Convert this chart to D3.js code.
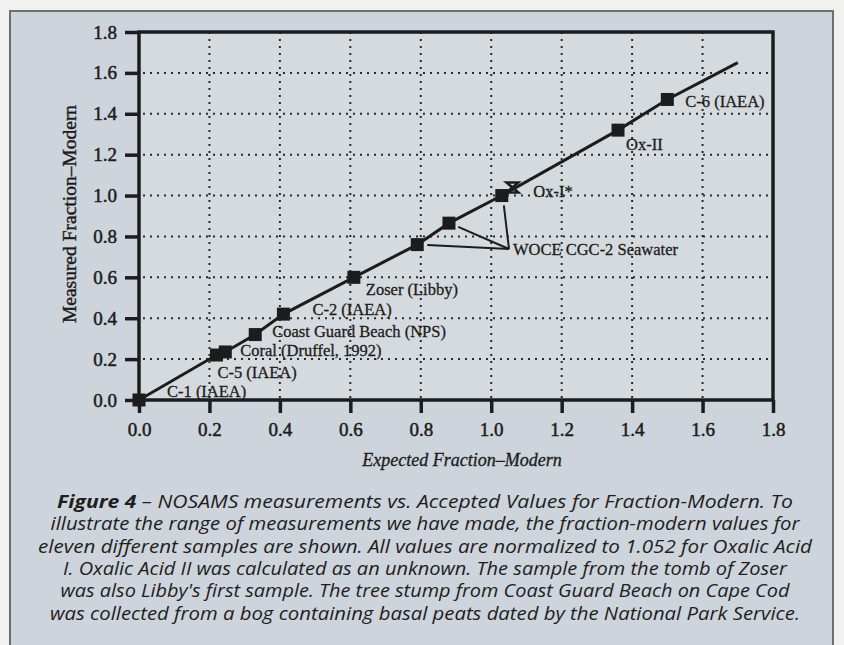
<!DOCTYPE html>
<html>
<head>
<meta charset="utf-8">
<script src="https://cdn.jsdelivr.net/npm/d3@7"></script>
<style>
  body { margin: 0; background: #f1f1ef; }
  svg { display: block; }
</style>
</head>
<body>
<svg id="chart" width="844" height="645"></svg>
<script>
// Samples plotted as filled squares (expected vs measured fraction-modern)
const sampleNames = ["C-1 (IAEA)", "C-5 (IAEA)", "Coral (Druffel, 1992)", "Coast Guard Beach (NPS)",
  "C-2 (IAEA)", "Zoser (Libby)", "WOCE CGC-2 Seawater", "WOCE CGC-2 Seawater", "WOCE CGC-2 Seawater",
  "Ox-II", "C-6 (IAEA)"];
const expected = [0.00, 0.22, 0.245, 0.33, 0.41, 0.61, 0.79, 0.88, 1.03, 1.36, 1.50];
const measured = [0.00, 0.22, 0.235, 0.32, 0.42, 0.60, 0.76, 0.865, 1.00, 1.32, 1.47];

// Ox-I standard, drawn with its own marker
const oxIName = "Ox-I*";
const oxIExpected = 1.06;
const oxIMeasured = 1.04;

// where the drawn line stops
const lineEnd = [1.70, 1.65];

const xTicks = [0, 0.2, 0.4, 0.6, 0.8, 1.0, 1.2, 1.4, 1.6, 1.8];
const yTicks = [0, 0.2, 0.4, 0.6, 0.8, 1.0, 1.2, 1.4, 1.6, 1.8];
const gridValues = [0.2, 0.4, 0.6, 0.8, 1.0, 1.2, 1.4, 1.6];

const xTitle = "Expected Fraction\u2013Modern";
const yTitle = "Measured Fraction\u2013Modern";

const captionLines = [
  ["Figure 4", " \u2013 NOSAMS measurements vs. Accepted Values for Fraction-Modern. To"],
  ["", "illustrate the range of measurements we have made, the fraction-modern values for"],
  ["", "eleven different samples are shown. All values are normalized to 1.052 for Oxalic Acid"],
  ["", "I. Oxalic Acid II was calculated as an unknown. The sample from the tomb of Zoser"],
  ["", "was also Libby's first sample. The tree stump from Coast Guard Beach on Cape Cod"],
  ["", "was collected from a bog containing basal peats dated by the National Park Service."]
];
// printed width of each caption line (the original face is wider than Open Sans)
const captionWidths = [736, 749, 774, 724, 729, 750];

// label placement (pixel offsets from each square), null = no own label
const labelOffsets = [[28, -3], [1, 23], [15, 4], [17, 2], [29, 1], [12, 18], null, null, null, [8, 20], [18, 8]];

const ink = "#1c1c1c";
const serif = "'Liberation Serif', 'Times New Roman', serif";

const svg = d3.select("#chart");

// panel with frame
svg.append("rect")
  .attr("x", 10).attr("y", 11).attr("width", 823).attr("height", 660)
  .attr("fill", "#ced4db")
  .attr("stroke", "#6d6f70")
  .attr("stroke-width", 2);

const x = d3.scaleLinear().domain([0, 1.8]).range([139, 773]);
const y = d3.scaleLinear().domain([0, 1.8]).range([400, 32]);

// plot background
svg.append("rect")
  .attr("x", x(0)).attr("y", y(1.8))
  .attr("width", x(1.8) - x(0)).attr("height", y(0) - y(1.8))
  .attr("fill", "#d5dadf");

// dotted grid
const grid = svg.append("g").attr("stroke", "#2a2a2a").attr("stroke-width", 2)
  .attr("stroke-dasharray", "2,5");
grid.selectAll("line.h").data(gridValues).join("line").attr("class", "h")
  .attr("x1", x(0) + 4).attr("x2", x(1.8))
  .attr("y1", d => y(d)).attr("y2", d => y(d));
grid.selectAll("line.v").data(gridValues).join("line").attr("class", "v")
  .attr("y1", y(1.8)).attr("y2", y(0))
  .attr("x1", d => x(d)).attr("x2", d => x(d));

// axes
const yAxis = svg.append("g")
  .attr("transform", `translate(${x(0)},0)`)
  .call(d3.axisLeft(y).tickValues(yTicks).tickSize(14).tickPadding(8).tickFormat(d3.format(".1f")));
const xAxis = svg.append("g")
  .attr("transform", `translate(0,${y(0)})`)
  .call(d3.axisBottom(x).tickValues(xTicks).tickSize(13).tickPadding(10).tickFormat(d3.format(".1f")));

[xAxis, yAxis].forEach(ax => {
  ax.select(".domain").remove();
  ax.selectAll(".tick line").attr("stroke", ink).attr("stroke-width", 3.5);
  ax.selectAll(".tick text")
    .attr("fill", ink)
    .attr("stroke", ink)
    .attr("stroke-width", 0.5)
    .style("font-family", serif)
    .style("font-size", "19px");
});

// frame of the plot
svg.append("rect")
  .attr("x", x(0)).attr("y", y(1.8))
  .attr("width", x(1.8) - x(0)).attr("height", y(0) - y(1.8))
  .attr("fill", "none")
  .attr("stroke", ink)
  .attr("stroke-width", 3.5);

// axis titles
svg.append("text")
  .attr("x", 462).attr("y", 466)
  .attr("text-anchor", "middle")
  .attr("fill", ink)
  .attr("stroke", ink).attr("stroke-width", 0.3)
  .style("font-family", serif).style("font-size", "18px").style("font-style", "italic")
  .text(xTitle);
svg.append("text")
  .attr("transform", "translate(76,214) rotate(-90)")
  .attr("text-anchor", "middle")
  .attr("fill", ink)
  .attr("stroke", ink).attr("stroke-width", 0.4)
  .style("font-family", serif).style("font-size", "19.5px")
  .text(yTitle);

// the line through the samples
const pts = expected.map((e, i) => [e, measured[i]]);
const linePts = pts.concat([lineEnd]);
svg.append("path")
  .datum(linePts)
  .attr("fill", "none")
  .attr("stroke", ink)
  .attr("stroke-width", 3)
  .attr("d", d3.line().x(d => x(d[0])).y(d => y(d[1])));

// leader lines for the seawater samples
const wocePos = [513, 249];
const woceIdx = sampleNames.map((n, i) => n.startsWith("WOCE") ? i : -1).filter(i => i >= 0);
function towardLabel(i, k) {
  const px = x(expected[i]), py = y(measured[i]);
  const dx = wocePos[0] - px, dy = wocePos[1] - py, len = Math.hypot(dx, dy);
  return k === 0 ? px + dx / len * 10 : py + dy / len * 10;
}
svg.append("g").selectAll("line").data(woceIdx).join("line")
  .attr("x1", wocePos[0] - 4).attr("y1", wocePos[1])
  .attr("x2", i => towardLabel(i, 0))
  .attr("y2", i => towardLabel(i, 1))
  .attr("stroke", ink)
  .attr("stroke-width", 2);

// squares
svg.append("g").selectAll("rect").data(pts).join("rect")
  .attr("x", d => x(d[0]) - 6.5)
  .attr("y", d => y(d[1]) - 6.5)
  .attr("width", 13).attr("height", 13)
  .attr("fill", ink);

// Ox-I hourglass marker
svg.append("path")
  .attr("transform", `translate(${x(oxIExpected)},${y(oxIMeasured)})`)
  .attr("d", "M-6,-5L6,-5L-6,5L6,5Z")
  .attr("fill", "none")
  .attr("stroke", ink)
  .attr("stroke-width", 2.5);

// labels
const labels = svg.append("g")
  .attr("fill", ink)
  .attr("stroke", ink)
  .attr("stroke-width", 0.3)
  .style("font-family", serif)
  .style("font-size", "16.5px");
sampleNames.forEach((name, i) => {
  const off = labelOffsets[i];
  if (!off) return;
  labels.append("text")
    .attr("x", x(expected[i]) + off[0])
    .attr("y", y(measured[i]) + off[1])
    .text(name);
});
labels.append("text").attr("x", wocePos[0]).attr("y", wocePos[1] + 6).text("WOCE CGC-2 Seawater");
labels.append("text")
  .attr("x", x(oxIExpected) + 21).attr("y", y(oxIMeasured) + 10)
  .text(oxIName);

// caption
const cap = svg.append("g")
  .attr("fill", "#1e1e1e")
  .style("font-family", "'Open Sans', sans-serif")
  .style("font-style", "italic")
  .style("font-size", "17.5px");
captionLines.forEach((ln, i) => {
  const t = cap.append("text")
    .attr("x", 425).attr("y", 508 + i * 22.3)
    .attr("text-anchor", "middle")
    .attr("textLength", captionWidths[i])
    .attr("lengthAdjust", "spacingAndGlyphs");
  if (ln[0]) t.append("tspan").style("font-weight", "bold").text(ln[0]);
  t.append("tspan").text(ln[1]);
});
</script>
</body>
</html>
